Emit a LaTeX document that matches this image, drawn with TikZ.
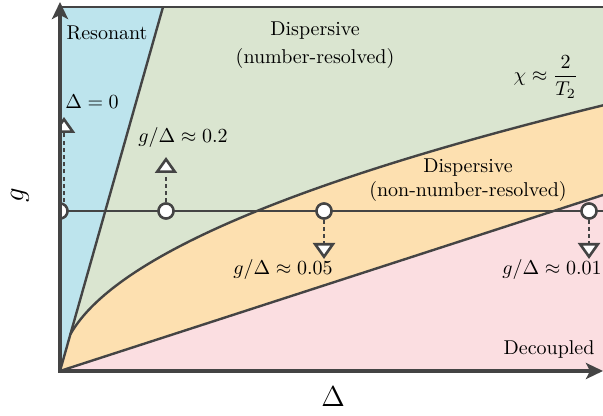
\documentclass[tikz,border=0pt]{standalone}
\usepackage{amsmath,amssymb}
\usepackage{xcolor}
\usepackage{tikz}
\usetikzlibrary{arrows.meta, calc}
\definecolor{resblue}{RGB}{189,228,237}
\definecolor{dispgreen}{RGB}{218,229,208}
\definecolor{disporange}{RGB}{253,224,176}
\definecolor{decpink}{RGB}{251,222,225}
\definecolor{ink}{RGB}{68,68,68}
\tikzset{
  bound/.style={draw=ink, line width=1.2pt},
  axisline/.style={draw=ink, line width=1.7pt,
                   {Stealth[length=8.5pt, width=8pt, inset=2pt]}-{Stealth[length=8.5pt, width=8pt, inset=2pt]}},
  probe/.style={circle, draw=ink, fill=white, line width=1.2pt,
                minimum size=7.5pt, inner sep=0pt},
  darr/.style={draw=ink, line width=1.3pt, dash pattern=on 2pt off 1.6pt,
               -{Triangle[fill=white, length=8pt, width=11pt]}},
  lbl/.style={font=\normalsize, text=black, align=center, inner sep=1pt},
}

\begin{document}
\begin{tikzpicture}[x=0.5pt, y=0.5pt]
  \useasboundingbox (0,0) rectangle (603,416);
  %% Plot window and region boundaries
  \coordinate (O)      at (60,45);
  \coordinate (tl)     at (60,409);
  \coordinate (tr)     at (603,409);
  \coordinate (br)     at (603,45);
  \coordinate (rtop)   at (163,409);
  \coordinate (dend)   at (603,221);
  \coordinate (cstart) at ({60+3.23*3.23},{45+11.4*3.23});
  \coordinate (hl)     at (60,205);
  \coordinate (hr)     at (603,205);
  \coordinate (ytip)   at (60,414);
  \coordinate (xtip)   at (603,45);
  \begin{scope}
    \clip (O) rectangle (tr);
    \fill[dispgreen] (O) rectangle (tr);
    \fill[disporange] (O) -- (cstart)
      -- plot[domain=3.23:23.32, samples=60] ({60+\x*\x},{45+11.4*\x})
      -- (dend) -- cycle;
    \fill[decpink] (O) -- (dend) -- (br) -- cycle;
    \fill[resblue] (O) -- (rtop) -- (tl) -- cycle;
    \draw[bound] (O) -- (rtop);
    \draw[bound] plot[domain=3.23:23.32, samples=60] ({60+\x*\x},{45+11.4*\x});
    \draw[bound] (O) -- (dend);
    \draw[bound] (hl) -- (hr);
    %% Probe points along the horizontal cut
    \foreach \n/\xx in {0/60, 1/166, 2/324, 3/589}
      \node[probe] (c\n) at (\xx,205) {};
    \coordinate (t0) at (64,299);
    \coordinate (t1) at (166,259);
    \coordinate (t2) at (324,157);
    \coordinate (t3) at (589,157);
    \draw[darr] (c0.north -| t0) -- (t0);
    \foreach \n in {1,2,3}
      \draw[darr] (c\n) -- (t\n);
    \foreach \n in {0,1,2,3}
      \node[probe] at (c\n) {};
  \end{scope}
  \draw[bound] (tl) -- (tr);
  %% Axes
  \draw[axisline] (ytip) -- (O) -- (xtip);
  \node[font=\Large] (xlab) at (333,19) {$\Delta$};
  \node[font=\Large, rotate=90] (ylab) at (20,221) {$g$};
  %% Region labels
  \node[lbl] (res) at (107,383) {Resonant};
  \node[lbl] (dnr) at (315,371) {Dispersive\\[2pt](number-resolved)};
  \node[lbl] (chi) at (546,339) {$\chi \approx \dfrac{2}{T_2}$};
  \node[lbl] (dnn) at (468,236) {Dispersive\\(non-number-resolved)};
  \node[lbl] (dec) at (549,66) {Decoupled};
  %% Probe labels
  \node[lbl] (l0) at (92,314) {$\Delta = 0$};
  \node[lbl] (l1) at (183,278) {$g/\Delta \approx 0.2$};
  \node[lbl] (l2) at (283,146) {$g/\Delta \approx 0.05$};
  \node[lbl] (l3) at (552,146) {$g/\Delta \approx 0.01$};
\end{tikzpicture}
\end{document}
